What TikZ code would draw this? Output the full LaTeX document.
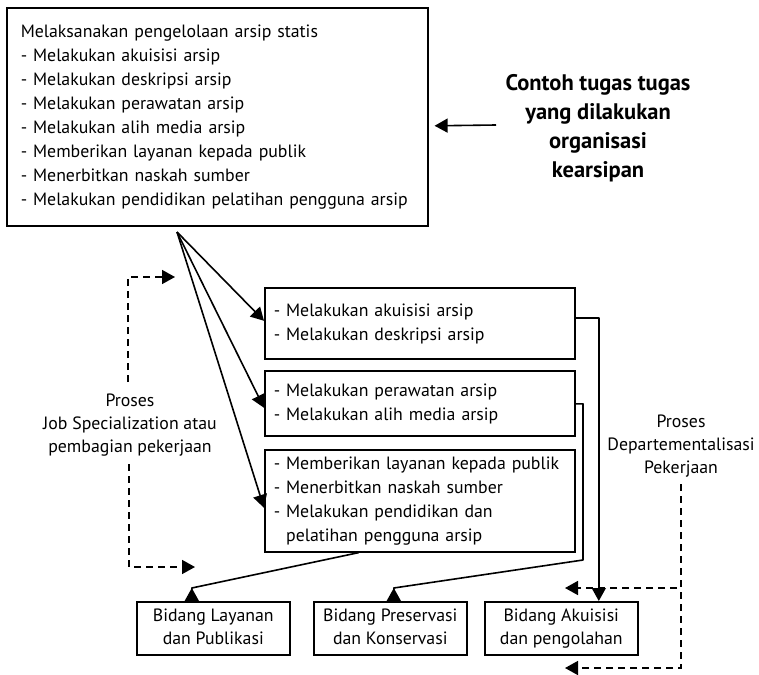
\documentclass[tikz,border=0pt]{standalone}
\usepackage{fontspec}
\setmainfont{PT Sans}
\usetikzlibrary{arrows.meta,calc}
\begin{document}
\begin{tikzpicture}[x=1pt,y=-1pt,
  txt/.style={font=\fontsize{17.8}{24}\selectfont},
  box/.style={draw,line width=1.6pt,anchor=north west,txt,align=left,inner ysep=0pt},
  unit/.style={draw,line width=1.6pt,anchor=north west,align=center,inner sep=0pt,
    minimum width=153pt,minimum height=53pt,font=\fontsize{17.8}{23}\selectfont},
  label/.style={align=center,inner sep=0pt,font=\fontsize{17.8}{23}\selectfont},
  conn/.style={line width=1.6pt,line join=round},
  tip/.style={-{Triangle[length=13pt,width=14pt]}},
  rtip/.style={-{Triangle[reversed,length=13pt,width=14pt]}},
  dashedline/.style={line width=1.6pt,dash pattern=on 7pt off 5pt}]
\useasboundingbox (0,0) rectangle (759,674);

% task list of the archive organisation
\node[box,minimum width=421pt,minimum height=218pt,text width=393pt,inner xsep=14pt] (main) at (6,7)
  {\strut Melaksanakan pengelolaan arsip statis\\
   - Melakukan akuisisi arsip\\
   - Melakukan deskripsi arsip\\
   - Melakukan perawatan arsip\\
   - Melakukan alih media arsip\\
   - Memberikan layanan kepada publik\\
   - Menerbitkan naskah sumber\\
   - Melakukan pendidikan pelatihan pengguna arsip\strut};

\node[align=center,inner sep=0pt,font=\bfseries\fontsize{22.5}{29}\selectfont] (title) at (598,128.5)
  {Contoh tugas tugas\\yang dilakukan\\organisasi\\kearsipan};
\coordinate (titletail) at (496,125);

% grouped tasks
\node[box,minimum width=310pt,minimum height=71pt,text width=292pt,inner xsep=9pt] (A) at (264,287)
  {\strut - Melakukan akuisisi arsip\\- Melakukan deskripsi arsip\strut};
\node[box,minimum width=310pt,minimum height=65pt,text width=292pt,inner xsep=9pt] (B) at (264,370)
  {\strut - Melakukan perawatan arsip\\- Melakukan alih media arsip\strut};
\node[box,minimum width=310pt,minimum height=102pt,text width=292pt,inner xsep=9pt] (C) at (264,449)
  {\strut - Memberikan layanan kepada publik\\- Menerbitkan naskah sumber\\- Melakukan pendidikan dan\\
   \hphantom{- }pelatihan pengguna arsip\strut};

% departments
\node[unit] (la) at (136,601) {\strut Bidang Layanan\\dan Publikasi\strut};
\node[unit] (pr) at (313,601) {\strut Bidang Preservasi\\dan Konservasi\strut};
\node[unit] (ak) at (484,601) {\strut Bidang Akuisisi\\dan pengolahan\strut};

% process labels
\node[label] (js) at (130,425) {Proses\\Job Specialization atau\\pembagian pekerjaan};
\node[label] (dp) at (681,446) {Proses\\Departementalisasi\\Pekerjaan};

\coordinate (fan) at (177,232);
\coordinate (bB) at (583,560);
\coordinate (jsTopStart) at (128,382);
\coordinate (jsTopEnd) at (175,277);
\coordinate (jsBotStart) at (129,464);
\coordinate (jsBotEnd) at (195,567);
\coordinate (dpStart) at (681,484);
\coordinate (dpTipA) at (565,588);
\coordinate (dpTipB) at (565,668);

% connectors
\draw[conn,tip] (titletail) -- ([xshift=6pt,yshift=-9pt]main.east);
\draw[conn,tip] (fan) -- ([yshift=2.5pt]A.west);
\draw[conn,tip] (fan) -- ([yshift=-4.5pt]B.west);
\draw[conn,tip] (fan) -- ([yshift=-7pt]C.west);
\draw[conn,tip] ([yshift=5.5pt]A.east) -| ([xshift=37.5pt]ak.north);
\draw[conn,rtip] ([yshift=-0.5pt]B.east) -| (bB) -- ([xshift=3.5pt,yshift=13pt]pr.north) -- ([xshift=3.5pt]pr.north);
\draw[conn,rtip] ([xshift=-61pt]C.south) -- ([xshift=-21.5pt,yshift=13pt]la.north) -- ([xshift=-21.5pt]la.north);

% dashed process arrows
\draw[dashedline,tip] (jsTopStart) |- (jsTopEnd);
\draw[dashedline,tip] (jsBotStart) |- (jsBotEnd);
\draw[dashedline,tip] (dpStart) |- (dpTipA);
\draw[dashedline,tip] (dpStart) |- (dpTipB);
\end{tikzpicture}
\end{document}
